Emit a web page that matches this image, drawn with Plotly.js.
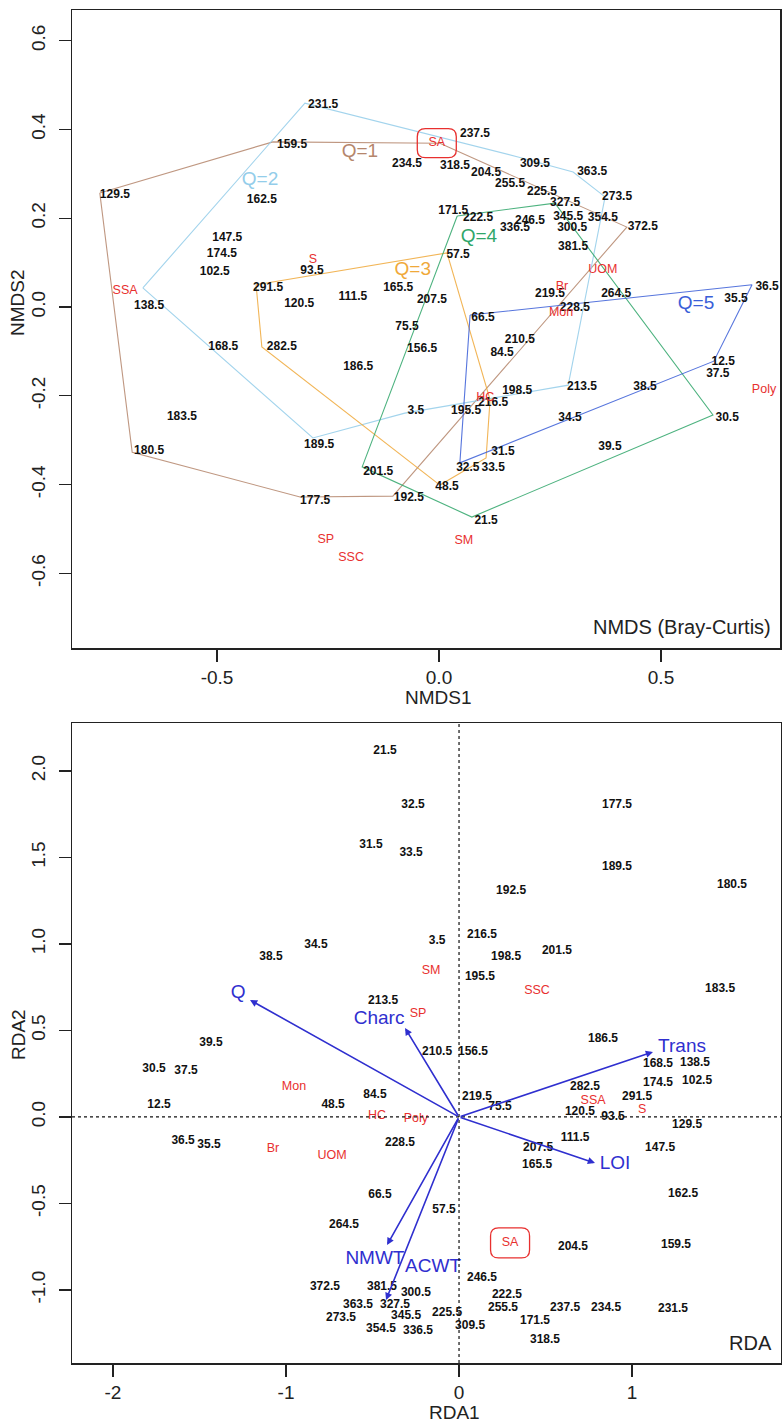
<!DOCTYPE html>
<html>
<head>
<meta charset="utf-8">
<script src="https://cdn.plot.ly/plotly-3.0.1.min.js"></script>
<style>html,body{margin:0;padding:0;background:#fff}#chart{width:782px;height:1427px}</style>
</head>
<body>
<div id="chart"></div>
<script>
// ---------- NMDS (top panel) ----------
const nmdsLabels = ['231.5','159.5','234.5','129.5','162.5','147.5','174.5','102.5','93.5','291.5','138.5','120.5','111.5','165.5','207.5','237.5','318.5','204.5','309.5','363.5','255.5','225.5','273.5','327.5','171.5','222.5','336.5','246.5','345.5','354.5','300.5','372.5','381.5','57.5','219.5','264.5','228.5','35.5','36.5','75.5','168.5','282.5','156.5','186.5','183.5','3.5','189.5','180.5','201.5','177.5','192.5','66.5','210.5','84.5','12.5','37.5','198.5','213.5','38.5','216.5','195.5','34.5','30.5','39.5','31.5','32.5','33.5','48.5','21.5'];
const nmdsX = [-0.261,-0.331,-0.072,-0.730,-0.399,-0.477,-0.489,-0.505,-0.286,-0.385,-0.653,-0.315,-0.194,-0.092,-0.016,0.081,0.036,0.106,0.216,0.345,0.160,0.232,0.401,0.284,0.032,0.088,0.171,0.205,0.291,0.369,0.300,0.459,0.302,0.043,0.250,0.399,0.306,0.669,0.739,-0.072,-0.486,-0.354,-0.038,-0.182,-0.579,-0.052,-0.270,-0.653,-0.137,-0.279,-0.068,0.099,0.182,0.142,0.640,0.628,0.176,0.322,0.464,0.122,0.061,0.295,0.649,0.385,0.144,0.065,0.122,0.018,0.106];
const nmdsY = [0.455,0.365,0.322,0.252,0.241,0.155,0.119,0.079,0.081,0.043,0.002,0.007,0.023,0.043,0.016,0.390,0.318,0.302,0.322,0.304,0.277,0.259,0.248,0.234,0.216,0.200,0.178,0.194,0.203,0.200,0.178,0.180,0.135,0.117,0.029,0.029,-0.002,0.018,0.045,-0.045,-0.090,-0.090,-0.095,-0.135,-0.248,-0.234,-0.311,-0.324,-0.372,-0.437,-0.430,-0.025,-0.074,-0.104,-0.124,-0.151,-0.189,-0.180,-0.180,-0.216,-0.234,-0.250,-0.250,-0.315,-0.327,-0.363,-0.363,-0.405,-0.482];

const nmdsSpecies = ['SA','S','SSA','UOM','Br','Mon','HC','Poly','SP','SSC','SM'];
const nmdsSpX = [-0.005,-0.284,-0.707,0.369,0.277,0.275,0.104,0.732,-0.255,-0.198,0.056];
const nmdsSpY = [0.369,0.106,0.036,0.083,0.045,-0.014,-0.205,-0.187,-0.525,-0.565,-0.527];

const groupNames = ['Q=1','Q=2','Q=3','Q=4','Q=5'];
const groupColors = ['#b5866c','#93cdea','#f0a93a','#2fa66a','#3a5ed8'];
const groupLabelX = [-0.178,-0.403,-0.059,0.090,0.579];
const groupLabelY = [0.349,0.286,0.083,0.158,0.007];

const hullQ1X = [-0.764,-0.374,0.002,0.423,-0.104,-0.313,-0.691];
const hullQ1Y = [0.257,0.372,0.369,0.180,-0.426,-0.428,-0.327];
const hullQ2X = [-0.667,-0.302,0.178,0.302,0.374,0.291,-0.077,-0.284];
const hullQ2Y = [0.043,0.459,0.338,0.304,0.248,-0.176,-0.239,-0.295];
const hullQ3X = [-0.412,0.018,0.115,0.106,0.002,-0.399];
const hullQ3Y = [0.050,0.122,-0.209,-0.340,-0.401,-0.090];
const hullQ4X = [0.041,0.261,0.617,0.074,-0.173];
const hullQ4Y = [0.205,0.234,-0.243,-0.473,-0.360];
const hullQ5X = [0.070,0.705,0.619,0.047];
const hullQ5Y = [-0.018,0.050,-0.122,-0.351];

const nmdsXTicks = [-0.5,0,0.5];
const nmdsXTickText = ['-0.5','0.0','0.5'];
const nmdsYTicks = [-0.6,-0.4,-0.2,0,0.2,0.4,0.6];
const nmdsYTickText = ['-0.6','-0.4','-0.2','0.0','0.2','0.4','0.6'];

// ---------- RDA (bottom panel) ----------
const rdaLabels = ['21.5','32.5','31.5','33.5','3.5','34.5','38.5','213.5','39.5','177.5','189.5','180.5','192.5','216.5','198.5','201.5','195.5','183.5','186.5','210.5','156.5','30.5','37.5','84.5','12.5','48.5','36.5','35.5','228.5','66.5','57.5','264.5','372.5','381.5','300.5','363.5','327.5','273.5','345.5','354.5','336.5','225.5','309.5','168.5','138.5','174.5','102.5','282.5','219.5','75.5','291.5','120.5','93.5','129.5','111.5','207.5','147.5','165.5','162.5','204.5','159.5','246.5','222.5','255.5','237.5','234.5','231.5','171.5','318.5'];
const rdaX = [-0.428,-0.266,-0.509,-0.277,-0.127,-0.827,-1.087,-0.439,-1.434,0.913,0.913,1.578,0.301,0.133,0.272,0.566,0.121,1.509,0.832,-0.127,0.081,-1.763,-1.578,-0.486,-1.734,-0.728,-1.595,-1.445,-0.341,-0.457,-0.087,-0.665,-0.775,-0.445,-0.249,-0.584,-0.370,-0.682,-0.306,-0.451,-0.237,-0.069,0.064,1.150,1.364,1.150,1.376,0.728,0.104,0.237,1.029,0.699,0.890,1.318,0.671,0.457,1.162,0.451,1.295,0.659,1.254,0.133,0.277,0.254,0.613,0.850,1.237,0.439,0.497];
const rdaY = [2.116,1.803,1.572,1.526,1.017,0.994,0.925,0.671,0.428,1.803,1.445,1.341,1.306,1.052,0.925,0.960,0.809,0.740,0.451,0.376,0.376,0.277,0.266,0.127,0.069,0.069,-0.139,-0.162,-0.150,-0.451,-0.538,-0.624,-0.983,-0.983,-1.017,-1.087,-1.087,-1.162,-1.150,-1.225,-1.237,-1.133,-1.208,0.306,0.312,0.197,0.208,0.173,0.116,0.058,0.116,0.029,0.000,-0.046,-0.121,-0.179,-0.179,-0.277,-0.445,-0.751,-0.740,-0.931,-1.029,-1.104,-1.104,-1.104,-1.110,-1.179,-1.289];

const rdaSpecies = ['SM','SP','SSC','Mon','HC','Poly','Br','UOM','SSA','S','SA'];
const rdaSpX = [-0.162,-0.237,0.451,-0.954,-0.474,-0.249,-1.075,-0.734,0.775,1.058,0.295];
const rdaSpY = [0.844,0.595,0.728,0.173,0.006,-0.012,-0.185,-0.225,0.092,0.040,-0.728];

const envNames = ['Q','Charc','Trans','LOI','NMWT','ACWT'];
const envX = [-1.208,-0.312,1.121,0.786,-0.416,-0.422];
const envY = [0.676,0.514,0.376,-0.266,-0.740,-1.058];
const envLabelX = [-1.277,-0.462,1.289,0.902,-0.486,-0.150];
const envLabelY = [0.717,0.566,0.405,-0.272,-0.821,-0.867];

const rdaXTicks = [-2,-1,0,1];
const rdaXTickText = ['-2','-1','0','1'];
const rdaYTicks = [-1,-0.5,0,0.5,1,1.5,2];
const rdaYTickText = ['-1.0','-0.5','0.0','0.5','1.0','1.5','2.0'];

// ---------- build ----------
const FONT = 'Liberation Sans, Arial, sans-serif';
const RED = '#e8302f';
const BLUE = '#2f2fcf';
const W = 782, H = 1427;
const px = v => v / W;
const py = v => 1 - v / H;

const traces = [];
const hullsX = [hullQ1X,hullQ2X,hullQ3X,hullQ4X,hullQ5X];
const hullsY = [hullQ1Y,hullQ2Y,hullQ3Y,hullQ4Y,hullQ5Y];
hullsX.forEach((hx,i) => {
  traces.push({x: hx.concat([hx[0]]), y: hullsY[i].concat([hullsY[i][0]]), mode:'lines',
    line:{color: groupColors[i], width:1.1}, opacity:0.85, xaxis:'x', yaxis:'y', hoverinfo:'skip'});
});
traces.push({x:nmdsX, y:nmdsY, text:nmdsLabels, mode:'text', textposition:'middle center',
  textfont:{family:FONT, size:12, color:'#111', weight:'bold'}, xaxis:'x', yaxis:'y', cliponaxis:false, hoverinfo:'skip'});
traces.push({x:nmdsSpX, y:nmdsSpY, text:nmdsSpecies, mode:'text', textposition:'middle center',
  textfont:{family:FONT, size:12.5, color:RED}, xaxis:'x', yaxis:'y', cliponaxis:false, hoverinfo:'skip'});
traces.push({x:groupLabelX, y:groupLabelY, text:groupNames, mode:'text', textposition:'middle center',
  textfont:{family:FONT, size:19, color:groupColors}, xaxis:'x', yaxis:'y', cliponaxis:false, hoverinfo:'skip'});

traces.push({x:rdaX, y:rdaY, text:rdaLabels, mode:'text', textposition:'middle center',
  textfont:{family:FONT, size:12, color:'#111', weight:'bold'}, xaxis:'x2', yaxis:'y2', cliponaxis:false, hoverinfo:'skip'});
traces.push({x:rdaSpX, y:rdaSpY, text:rdaSpecies, mode:'text', textposition:'middle center',
  textfont:{family:FONT, size:12.5, color:RED}, xaxis:'x2', yaxis:'y2', cliponaxis:false, hoverinfo:'skip'});
traces.push({x:envLabelX, y:envLabelY, text:envNames, mode:'text', textposition:'middle center',
  textfont:{family:FONT, size:19, color:BLUE}, xaxis:'x2', yaxis:'y2', cliponaxis:false, hoverinfo:'skip'});

function roundRect(w, h, r) {
  const x0 = -w/2, x1 = w/2, y0 = -h/2, y1 = h/2;
  return `M ${x0+r},${y0} L ${x1-r},${y0} Q ${x1},${y0} ${x1},${y0+r} L ${x1},${y1-r} Q ${x1},${y1} ${x1-r},${y1} L ${x0+r},${y1} Q ${x0},${y1} ${x0},${y1-r} L ${x0},${y0+r} Q ${x0},${y0} ${x0+r},${y0} Z`;
}
const iTop = nmdsSpecies.indexOf('SA');
const iBot = rdaSpecies.indexOf('SA');
const shapes = [
  {type:'path', xref:'x', yref:'y', xsizemode:'pixel', ysizemode:'pixel',
   xanchor:nmdsSpX[iTop], yanchor:nmdsSpY[iTop], path:roundRect(39,29,8), line:{color:RED, width:1.3}},
  {type:'path', xref:'x2', yref:'y2', xsizemode:'pixel', ysizemode:'pixel',
   xanchor:rdaSpX[iBot], yanchor:rdaSpY[iBot], path:roundRect(39,30,8), line:{color:RED, width:1.3}},
  {type:'line', xref:'x2', yref:'y2 domain', x0:0, x1:0, y0:0, y1:1, line:{color:'#111', width:1.2, dash:'dot'}},
  {type:'line', xref:'x2 domain', yref:'y2', x0:0, x1:1, y0:0, y1:0, line:{color:'#111', width:1.2, dash:'dot'}}
];

const annotations = [];
envNames.forEach((n,i) => {
  annotations.push({xref:'x2', yref:'y2', axref:'x2', ayref:'y2', x:envX[i], y:envY[i], ax:0, ay:0,
    text:'', showarrow:true, arrowhead:2, arrowsize:0.9, arrowwidth:1.6, arrowcolor:BLUE, standoff:0, startstandoff:0});
});
annotations.push({xref:'paper', yref:'paper', x:px(773), y:py(627), xanchor:'right', yanchor:'middle',
  text:'NMDS (Bray-Curtis)', showarrow:false, font:{family:FONT, size:20, color:'#222'}});
annotations.push({xref:'paper', yref:'paper', x:px(774), y:py(1343), xanchor:'right', yanchor:'middle',
  text:'RDA', showarrow:false, font:{family:FONT, size:20, color:'#222'}});
annotations.push({xref:'paper', yref:'paper', x:px(439), y:py(697), xanchor:'center', yanchor:'middle',
  text:'NMDS1', showarrow:false, font:{family:FONT, size:19, color:'#222'}});
annotations.push({xref:'paper', yref:'paper', x:px(454), y:py(1412), xanchor:'center', yanchor:'middle',
  text:'RDA1', showarrow:false, font:{family:FONT, size:19, color:'#222'}});
annotations.push({xref:'paper', yref:'paper', x:px(18), y:py(303), xanchor:'center', yanchor:'middle',
  text:'NMDS2', textangle:-90, showarrow:false, font:{family:FONT, size:19, color:'#222'}});
annotations.push({xref:'paper', yref:'paper', x:px(18), y:py(1035), xanchor:'center', yanchor:'middle',
  text:'RDA2', textangle:-90, showarrow:false, font:{family:FONT, size:19, color:'#222'}});

const axBase = {showgrid:false, zeroline:false, showline:true, linecolor:'#222', linewidth:1.5, mirror:true,
  ticks:'outside', ticklen:12, tickwidth:1.3, tickcolor:'#222', tickmode:'array',
  tickfont:{family:FONT, size:19, color:'#222'}, fixedrange:true};

const layout = {
  width:W, height:H, margin:{l:0, r:0, t:0, b:0}, showlegend:false,
  paper_bgcolor:'#fff', plot_bgcolor:'#fff',
  xaxis: Object.assign({}, axBase, {domain:[px(72), px(780)], range:[-0.8266, 0.768], anchor:'y',
    tickvals:nmdsXTicks, ticktext:nmdsXTickText}),
  yaxis: Object.assign({}, axBase, {domain:[py(648), py(10)], range:[-0.768, 0.669], anchor:'x',
    tickvals:nmdsYTicks, ticktext:nmdsYTickText, tickangle:-90, ticklabelstandoff:6}),
  xaxis2: Object.assign({}, axBase, {domain:[px(72), px(781)], range:[-2.237, 1.861], anchor:'y2',
    tickvals:rdaXTicks, ticktext:rdaXTickText}),
  yaxis2: Object.assign({}, axBase, {domain:[py(1363), py(723)], range:[-1.422, 2.277], anchor:'x2',
    tickvals:rdaYTicks, ticktext:rdaYTickText, tickangle:-90, ticklabelstandoff:6}),
  shapes: shapes,
  annotations: annotations
};

Plotly.newPlot('chart', traces, layout, {staticPlot:true, displayModeBar:false});
</script>
</body>
</html>
